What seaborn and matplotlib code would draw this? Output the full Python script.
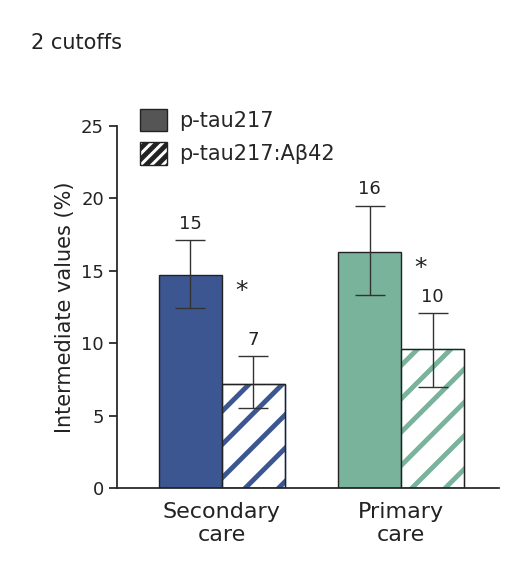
import matplotlib
matplotlib.use("Agg")
import matplotlib.pyplot as plt
import seaborn as sns
import pandas as pd
import numpy as np
from matplotlib.patches import Patch

settings = ["Secondary\ncare", "Primary\ncare"]
methods = ["p-tau217", "p-tau217:Aβ42"]
values = [[14.7, 7.2], [16.3, 9.6]]
err_lo = [[12.4, 5.5], [13.3, 7.0]]
err_hi = [[17.1, 9.1], [19.5, 12.1]]
labels = [["15", "7"], ["16", "10"]]
colors = ["#3b5691", "#7ab39b"]

sns.set_theme(style="ticks")
plt.rcParams['font.family'] = ['DejaVu Sans']
plt.rcParams['hatch.linewidth'] = 3.5

rows = []
for i, s in enumerate(settings):
    for j, m in enumerate(methods):
        rows.append({"setting": s, "method": m, "value": values[i][j]})
df = pd.DataFrame(rows)

fig = plt.figure(figsize=(5.09, 5.76), dpi=100)
ax = fig.add_axes([0.23, 0.153, 0.75, 0.628])
sns.barplot(data=df, x="setting", y="value", hue="method", order=settings,
            hue_order=methods, width=0.7, errorbar=None, ax=ax, legend=False)

for j in range(2):
    cont = ax.containers[j]
    for i, p in enumerate(cont.patches):
        c = colors[i]
        if j == 0:
            p.set_facecolor(c); p.set_edgecolor("#222222"); p.set_linewidth(1)
        else:
            p.set_facecolor("white"); p.set_edgecolor(c); p.set_hatch("/"); p.set_linewidth(1)
            ax.add_patch(plt.Rectangle((p.get_x(), 0), p.get_width(), p.get_height(),
                                       fill=False, edgecolor="#222222", lw=1, zorder=3))
        xc = p.get_x() + p.get_width() / 2
        v = values[i][j]
        ax.errorbar(xc, v, yerr=[[v - err_lo[i][j]], [err_hi[i][j] - v]],
                    color="#333333", lw=1, capsize=11, capthick=1, zorder=4)
        ax.text(xc, err_hi[i][j] + 0.5, labels[i][j], ha="center", va="bottom",
                fontsize=13, color="#222222")

star_y = [13.6, 15.2]
for i in range(2):
    ax.text(i + 0.11, star_y[i], "*", ha="center", va="center", fontsize=18, color="#222222")

ax.set_xlim(-0.583, 1.544)
ax.set_ylim(0, 25)
ax.set_yticks([0, 5, 10, 15, 20, 25])
ax.tick_params(labelsize=13, colors="#222222", length=6)
ax.tick_params(axis="x", length=0, pad=10, labelsize=16)
ax.set_xlabel("")
ax.set_ylabel("Intermediate values (%)", fontsize=15, color="#222222")
for s in ["top", "right"]:
    ax.spines[s].set_visible(False)
for s in ["left", "bottom"]:
    ax.spines[s].set_color("#222222")

handles = [Patch(facecolor="#555555", edgecolor="#222222"),
           Patch(facecolor="white", edgecolor="#222222", hatch="///")]
ax.legend(handles, methods, loc="upper left", bbox_to_anchor=(0.01, 1.1),
          frameon=False, fontsize=15, handlelength=1.3, handleheight=1.3,
          handletextpad=0.6, labelspacing=0.5)
fig.text(0.06, 0.915, "2 cutoffs", fontsize=15, color="#222222")
fig.savefig("out.png", dpi=100)
